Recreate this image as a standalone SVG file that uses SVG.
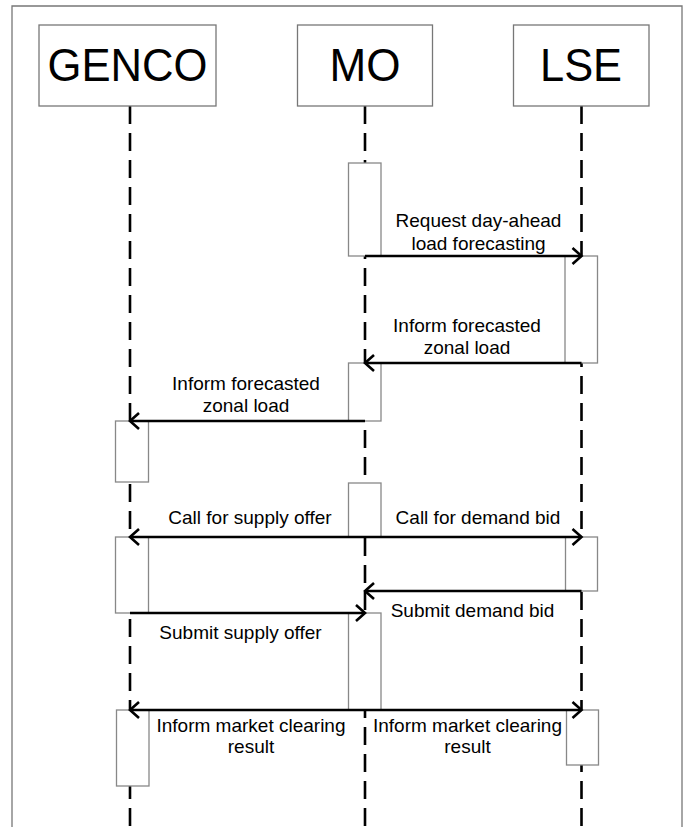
<svg xmlns="http://www.w3.org/2000/svg" width="687" height="827" viewBox="0 0 687 827">
<style>
.frame{fill:none;stroke:#777;stroke-width:1.3}
.head{fill:#fff;stroke:#777;stroke-width:1.3}
.htxt{font-family:"Liberation Sans",Arial,sans-serif;font-size:46px;fill:#000;text-anchor:middle}
.life{stroke:#000;stroke-width:2.6;stroke-dasharray:18 9;fill:none}
.act{fill:#fff;stroke:#888;stroke-width:1.3}
.msg{stroke:#000;stroke-width:2.6;fill:none}
.lbl{font-family:"Liberation Sans",Arial,sans-serif;font-size:19px;fill:#000;text-anchor:middle}
</style>
<defs>
<marker id="arr" markerUnits="userSpaceOnUse" viewBox="-12 -10 14 20" refX="0" refY="0" markerWidth="14" markerHeight="20" orient="auto" overflow="visible">
<path d="M-9,-8 L0,0 L-9,8" fill="none" stroke="#000" stroke-width="2.6"/>
</marker>
</defs>
<rect width="687" height="827" fill="#fff"/>
<path class="frame" d="M12,827 V6 H682 V827"/>
<g id="lifelines">
<line class="life" x1="130" y1="106" x2="130" y2="827"/>
<line class="life" x1="365" y1="106" x2="365" y2="827"/>
<line class="life" x1="581.5" y1="106" x2="581.5" y2="827"/>
</g>
<g id="GENCO">
<rect class="head" x="39" y="25" width="177" height="81"/>
<text class="htxt" x="127.5" y="81" textLength="160" lengthAdjust="spacingAndGlyphs">GENCO</text>
</g>
<g id="MO">
<rect class="head" x="297.5" y="25" width="135" height="81"/>
<text class="htxt" x="365" y="81" textLength="71" lengthAdjust="spacingAndGlyphs">MO</text>
</g>
<g id="LSE">
<rect class="head" x="513.5" y="25" width="135.5" height="81"/>
<text class="htxt" x="581" y="81" textLength="82" lengthAdjust="spacingAndGlyphs">LSE</text>
</g>
<g id="activations">
<rect class="act" x="348.5" y="163" width="32.5" height="93"/>
<rect class="act" x="565" y="256" width="32.5" height="107"/>
<rect class="act" x="348.5" y="363" width="32.5" height="58"/>
<rect class="act" x="115.5" y="421" width="33" height="61"/>
<rect class="act" x="348.5" y="483" width="32.5" height="54"/>
<rect class="act" x="115.5" y="537" width="33" height="76"/>
<rect class="act" x="565.5" y="537" width="32" height="54"/>
<rect class="act" x="348.5" y="613" width="32.5" height="97"/>
<rect class="act" x="116.5" y="710" width="32.5" height="76"/>
<rect class="act" x="566.5" y="710" width="32" height="55"/>
</g>
<g id="connectors">
<line class="msg" x1="365" y1="256" x2="581.5" y2="256" marker-end="url(#arr)"/>
<line class="msg" x1="581.5" y1="363" x2="365" y2="363" marker-end="url(#arr)"/>
<line class="msg" x1="365" y1="421" x2="130" y2="421" marker-end="url(#arr)"/>
<line class="msg" x1="365" y1="537" x2="130" y2="537" marker-end="url(#arr)"/>
<line class="msg" x1="365" y1="537" x2="581.5" y2="537" marker-end="url(#arr)"/>
<line class="msg" x1="581.5" y1="591" x2="365" y2="591" marker-end="url(#arr)"/>
<line class="msg" x1="130" y1="613" x2="365" y2="613" marker-end="url(#arr)"/>
<line class="msg" x1="365" y1="710" x2="130" y2="710" marker-end="url(#arr)"/>
<line class="msg" x1="365" y1="710" x2="581.5" y2="710" marker-end="url(#arr)"/>
</g>
<g id="labels">
<text class="lbl" x="478.5" y="226.5">Request day-ahead</text>
<text class="lbl" x="478.5" y="249.5">load forecasting</text>
<text class="lbl" x="467" y="332">Inform forecasted</text>
<text class="lbl" x="467" y="354">zonal load</text>
<text class="lbl" x="246" y="390">Inform forecasted</text>
<text class="lbl" x="246" y="412">zonal load</text>
<text class="lbl" x="250" y="524">Call for supply offer</text>
<text class="lbl" x="478" y="524">Call for demand bid</text>
<text class="lbl" x="472.5" y="617">Submit demand bid</text>
<text class="lbl" x="240.5" y="639">Submit supply offer</text>
<text class="lbl" x="251" y="732">Inform market clearing</text>
<text class="lbl" x="251" y="752.5">result</text>
<text class="lbl" x="467.5" y="732">Inform market clearing</text>
<text class="lbl" x="467.5" y="752.5">result</text>
</g>
</svg>
